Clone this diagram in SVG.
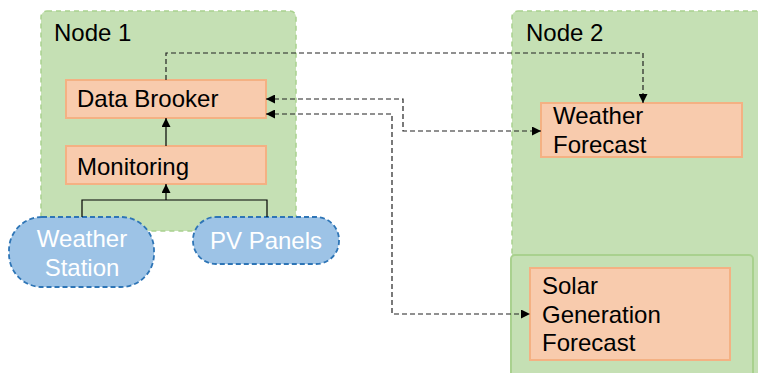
<svg xmlns="http://www.w3.org/2000/svg" width="758" height="373" viewBox="0 0 758 373">
  <defs>
    <marker id="arrow" viewBox="0 0 10 10" refX="10" refY="5" markerWidth="9" markerHeight="9" markerUnits="userSpaceOnUse" orient="auto-start-reverse">
      <path d="M0,0 L10,5 L0,10 z" fill="#000"/>
    </marker>
    <style>
      .container { fill: #c5e0b4; stroke: #a9d18e; stroke-width: 1.5; stroke-dasharray: 5 4; }
      .subcontainer { fill: #c5e0b4; stroke: #a9d18e; stroke-width: 2; }
      .proc { fill: #f8cbad; stroke: #f4b183; stroke-width: 2; }
      .device { fill: #9dc3e6; stroke: #2e75b6; stroke-width: 1.8; stroke-dasharray: 5 3; }
      text { font-family: "Liberation Sans", Arial, sans-serif; font-size: 24px; fill: #000; }
      .light { fill: #fff; text-anchor: middle; }
      .solid { fill: none; stroke: #000; stroke-width: 1.2; }
      .dashed { fill: none; stroke: #222; stroke-width: 1.2; stroke-dasharray: 5 3; }
    </style>
  </defs>

  <!-- Node 1 -->
  <g id="node1">
    <rect class="container" x="41" y="11" width="255" height="220" rx="6"/>
    <text x="54" y="41">Node 1</text>
  </g>

  <!-- Node 2 -->
  <g id="node2">
    <rect class="container" x="512" y="11" width="256" height="372" rx="6"/>
    <text x="526" y="41">Node 2</text>
  </g>
  <g id="node2-sub">
    <rect class="subcontainer" x="511" y="255" width="242" height="125" rx="4"/>
  </g>

  <g id="data-brooker">
    <rect class="proc" x="66" y="80" width="200" height="38"/>
    <text x="77" y="107">Data Brooker</text>
  </g>

  <g id="monitoring">
    <rect class="proc" x="66" y="146" width="200" height="38"/>
    <text x="77" y="175">Monitoring</text>
  </g>

  <g id="weather-station">
    <rect class="device" x="9" y="217" width="145" height="70" rx="33"/>
    <text class="light" x="82" y="247">Weather</text>
    <text class="light" x="82" y="276">Station</text>
  </g>

  <g id="pv-panels">
    <rect class="device" x="193" y="217" width="146" height="47" rx="23"/>
    <text class="light" x="266" y="249">PV Panels</text>
  </g>

  <g id="weather-forecast">
    <rect class="proc" x="541" y="103" width="201" height="54"/>
    <text x="553" y="124">Weather</text>
    <text x="553" y="153">Forecast</text>
  </g>

  <g id="solar-forecast">
    <rect class="proc" x="530" y="268" width="200" height="92"/>
    <text x="542" y="294">Solar</text>
    <text x="542" y="323">Generation</text>
    <text x="542" y="351">Forecast</text>
  </g>

  <!-- Connectors -->
  <g id="connectors">
    <path class="solid" d="M82,217 V200 H267 V217"/>
    <path class="solid" d="M166,200 V184" marker-end="url(#arrow)"/>
    <path class="solid" d="M166,146 V118" marker-end="url(#arrow)"/>
    <path class="dashed" d="M166,80 V53 H643 V103" marker-end="url(#arrow)"/>
    <path class="dashed" d="M266,99 H403 V131 H541" marker-start="url(#arrow)" marker-end="url(#arrow)"/>
    <path class="dashed" d="M266,114 H392 V314 H530" marker-start="url(#arrow)" marker-end="url(#arrow)"/>
  </g>
</svg>
